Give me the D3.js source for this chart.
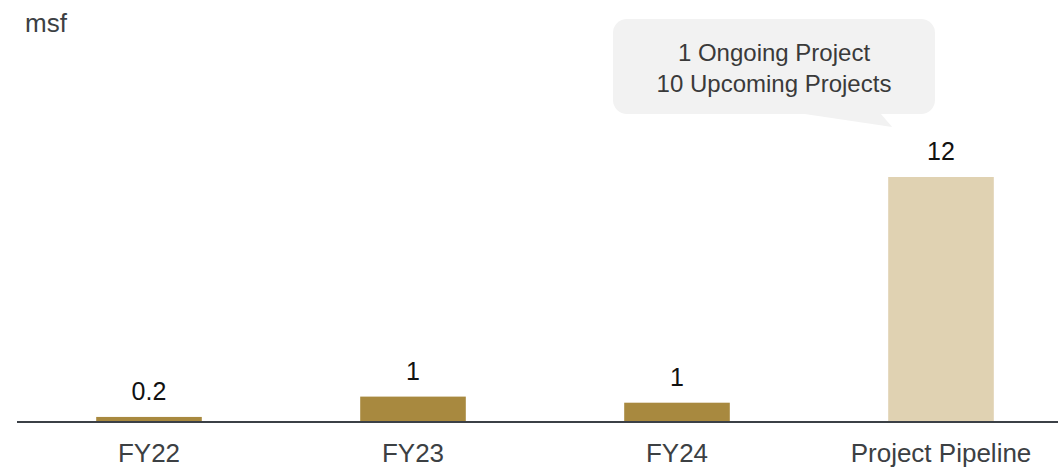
<!DOCTYPE html>
<html>
<head>
<meta charset="utf-8">
<script src="https://cdn.jsdelivr.net/npm/d3@7/dist/d3.min.js"></script>
<style>
  body { margin: 0; background: #fff; }
  svg { display: block; font-family: "Liberation Sans", Arial, sans-serif; }
</style>
</head>
<body>
<div id="chart_area"></div>
<script>
// data
const categories = ['FY22', 'FY23', 'FY24', 'Project Pipeline'];
const values = [0.2, 1.2, 0.9, 12];
const valueLabels = ['0.2', '1', '1', '12'];
const barColors = ['#a8893f', '#a8893f', '#a8893f', '#e0d2b2'];
const unitLabel = 'msf';
const calloutLines = ['1 Ongoing Project', '10 Upcoming Projects'];

const width = 1058;
const height = 468;

const svg = d3
  .select('#chart_area')
  .append('svg')
  .attr('width', width)
  .attr('height', height);

const x = d3.scaleBand().domain(categories).range([17, 1073]).paddingInner(0.6).paddingOuter(0.3);
const y = d3.scaleLinear().domain([0, 12]).range([421, 177]);

// unit label
svg
  .append('text')
  .attr('x', 25)
  .attr('y', 32)
  .attr('font-size', 26)
  .attr('fill', '#3c4043')
  .text(unitLabel);

// bars
svg
  .append('g')
  .selectAll('rect')
  .data(categories)
  .join('rect')
  .attr('x', (d) => x(d))
  .attr('y', (d, i) => y(values[i]))
  .attr('width', x.bandwidth())
  .attr('height', (d, i) => y(0) - y(values[i]))
  .attr('fill', (d, i) => barColors[i]);

// value labels
svg
  .append('g')
  .selectAll('text')
  .data(categories)
  .join('text')
  .attr('x', (d) => x(d) + x.bandwidth() / 2)
  .attr('y', (d, i) => y(values[i]) - 17)
  .attr('text-anchor', 'middle')
  .attr('font-size', 25)
  .attr('fill', '#111')
  .text((d, i) => valueLabels[i]);

// baseline axis
svg
  .append('line')
  .attr('x1', 17)
  .attr('x2', width)
  .attr('y1', y(0) + 1)
  .attr('y2', y(0) + 1)
  .attr('stroke', '#3b4046')
  .attr('stroke-width', 2);

// category labels
svg
  .append('g')
  .selectAll('text')
  .data(categories)
  .join('text')
  .attr('x', (d) => x(d) + x.bandwidth() / 2)
  .attr('y', 462)
  .attr('text-anchor', 'middle')
  .attr('font-size', 26)
  .attr('fill', '#3c4043')
  .text((d) => d);

// callout over the pipeline bar
const last = categories[categories.length - 1];
const bubbleRight = x(last) + x.bandwidth() / 2 - 6;
const bubbleW = 322;
const bubbleLeft = bubbleRight - bubbleW;
const bubbleTop = 19;
const bubbleH = 95;
const callout = svg.append('g');
callout
  .append('rect')
  .attr('x', bubbleLeft)
  .attr('y', bubbleTop)
  .attr('width', bubbleW)
  .attr('height', bubbleH)
  .attr('rx', 14)
  .attr('fill', '#f2f2f2');
callout
  .append('path')
  .attr(
    'd',
    `M${bubbleRight - 137},${bubbleTop + bubbleH - 1} L${x(last) + 4},${bubbleTop + bubbleH + 13} L${bubbleRight - 55},${bubbleTop + bubbleH - 1} Z`
  )
  .attr('fill', '#f2f2f2');
callout
  .selectAll('text')
  .data(calloutLines)
  .join('text')
  .attr('x', bubbleLeft + bubbleW / 2)
  .attr('y', (d, i) => 61 + i * 31)
  .attr('text-anchor', 'middle')
  .attr('font-size', 24)
  .attr('fill', '#3a3a3a')
  .text((d) => d);
</script>
</body>
</html>
